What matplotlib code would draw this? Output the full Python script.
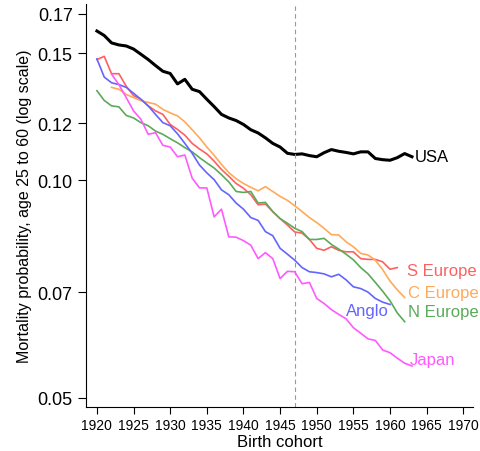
import numpy as np
import matplotlib.pyplot as plt
from matplotlib.ticker import FixedLocator, NullLocator

plt.rcParams['font.family'] = ['Liberation Sans', 'DejaVu Sans']

# Dados por coorte de nascimento
anos_usa = np.arange(1920, 1964)
usa = [0.161, 0.1587, 0.155, 0.154, 0.1535, 0.152, 0.1495, 0.147, 0.1442, 0.1416,
       0.1406, 0.136, 0.138, 0.1337, 0.1327, 0.1295, 0.1265, 0.1234, 0.122, 0.121,
       0.1195, 0.1175, 0.1163, 0.1145, 0.1125, 0.1112, 0.109, 0.1086, 0.1088, 0.1082,
       0.1078, 0.1092, 0.1103, 0.1097, 0.1093, 0.1088, 0.1095, 0.1095, 0.1072, 0.1068,
       0.1066, 0.1075, 0.1089, 0.1078]

anos_s = np.arange(1920, 1962)
s_europe = [0.147, 0.1485, 0.1405, 0.1405, 0.135, 0.131, 0.1295, 0.1268, 0.1248, 0.1234,
            0.1195, 0.1176, 0.1155, 0.1125, 0.1105, 0.1088, 0.1063, 0.1035, 0.1013, 0.099,
            0.0975, 0.0955, 0.0925, 0.0927, 0.0905, 0.0885, 0.0867, 0.0848, 0.0845, 0.0828,
            0.0805, 0.080, 0.0809, 0.080, 0.0796, 0.0796, 0.0779, 0.0777, 0.0777, 0.0771,
            0.0753, 0.0757]

anos_c = np.arange(1922, 1963)
c_europe = [0.1345, 0.1337, 0.1315, 0.1302, 0.1289, 0.1282, 0.1275, 0.1254, 0.124, 0.1228,
            0.1205, 0.1175, 0.1145, 0.1112, 0.1083, 0.1052, 0.1025, 0.1005, 0.099, 0.0978,
            0.0967, 0.098, 0.0965, 0.095, 0.0938, 0.0922, 0.0905, 0.0888, 0.0874, 0.0858,
            0.0841, 0.084, 0.0822, 0.0809, 0.0792, 0.0788, 0.0775, 0.0752, 0.0725, 0.0705,
            0.0688]

anos_n = np.arange(1920, 1963)
n_europe = [0.1331, 0.129, 0.1268, 0.1264, 0.123, 0.122, 0.1202, 0.119, 0.117, 0.1158,
            0.1142, 0.1127, 0.111, 0.1095, 0.1075, 0.1057, 0.104, 0.1018, 0.0995, 0.0965,
            0.0962, 0.0965, 0.093, 0.0932, 0.0905, 0.0885, 0.0872, 0.0858, 0.0849, 0.0828,
            0.0828, 0.0831, 0.0815, 0.0803, 0.079, 0.0776, 0.0757, 0.0742, 0.0722, 0.0702,
            0.0681, 0.0655, 0.0637]

anos_a = np.arange(1920, 1961)
anglo = [0.1473, 0.139, 0.1365, 0.1357, 0.1345, 0.132, 0.1295, 0.1268, 0.1234, 0.1202,
         0.119, 0.116, 0.1125, 0.109, 0.105, 0.1024, 0.1002, 0.097, 0.0955, 0.093,
         0.0912, 0.0888, 0.088, 0.0849, 0.0838, 0.0805, 0.079, 0.0775, 0.0757, 0.0747,
         0.0745, 0.0742, 0.0735, 0.0741, 0.0728, 0.0712, 0.0708, 0.070, 0.0686, 0.0678,
         0.0673]

anos_j = np.arange(1922, 1964)
japan = [0.1403, 0.1357, 0.1302, 0.1248, 0.1215, 0.1158, 0.1164, 0.1118, 0.1112, 0.1078,
         0.1084, 0.1007, 0.0976, 0.0976, 0.089, 0.0912, 0.0835, 0.0834, 0.0825, 0.0813,
         0.0779, 0.0794, 0.0779, 0.0731, 0.0748, 0.0747, 0.0719, 0.0722, 0.0686, 0.0675,
         0.0662, 0.0652, 0.0643, 0.0625, 0.0614, 0.0603, 0.060, 0.0582, 0.0577, 0.0567,
         0.0558, 0.0553]

yticks = [0.05, 0.07, 0.10, 0.12, 0.15, 0.17]
yticklabels = ['0.05', '0.07', '0.10', '0.12', '0.15', '0.17']
xticks = np.arange(1920, 1971, 5)

fig = plt.figure(figsize=(4.8, 4.52), dpi=100)
ax = fig.add_axes([0.179, 0.097, 0.806, 0.892])

# (anos, valores, rótulo, cor, largura, deslocamento do rótulo em pixels, alinhamento)
series = [
    (anos_usa, usa, 'USA', 'black', 2.2, (3, 0), 'left'),
    (anos_s, s_europe, 'S Europe', '#ff5f5f', 1.2, (10, -3), 'left'),
    (anos_c, c_europe, 'C Europe', '#ffaa5a', 1.2, (3, 5), 'left'),
    (anos_n, n_europe, 'N Europe', '#5aaa5a', 1.2, (3, 10), 'left'),
    (anos_a, anglo, 'Anglo', '#6464ff', 1.2, (-1, -6), 'right'),
    (anos_j, japan, 'Japan', '#ff5aff', 1.2, (-2, 7), 'left'),
]

for anos, vals, nome, cor, lw, off, ha in series:
    ax.plot(anos, vals, color=cor, lw=lw)
    ax.annotate(nome, xy=(anos[-1], vals[-1]), xytext=off,
                textcoords='offset pixels', ha=ha, va='center',
                color=cor, fontsize=12)

ax.axvline(1947, color='#999999', lw=0.8, ls=(0, (4, 3)))

ax.set_yscale('log')
ax.set_ylim(0.0485, 0.1755)
ax.set_xlim(1918.5, 1971.3)
ax.yaxis.set_major_locator(FixedLocator(yticks))
ax.yaxis.set_minor_locator(NullLocator())
ax.set_yticklabels(yticklabels)
ax.set_xticks(xticks)

ax.spines['top'].set_visible(False)
ax.spines['right'].set_visible(False)
ax.tick_params(axis='y', labelsize=13, length=6)
ax.tick_params(axis='x', labelsize=10, length=5, pad=3)

ax.set_xlabel('Birth cohort', fontsize=12)
ax.xaxis.set_label_coords(0.5, -0.066)
ax.set_ylabel('Mortality probability, age 25 to 60 (log scale)', fontsize=11.5)

fig.savefig('out.png', dpi=100)
